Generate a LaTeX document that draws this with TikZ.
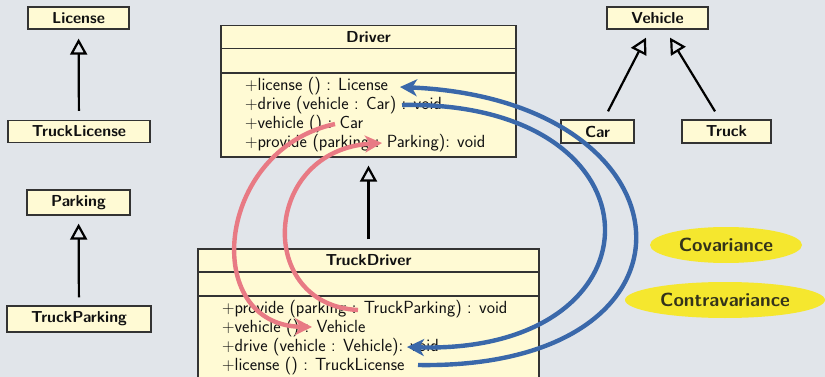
\documentclass[tikz,border=0pt]{standalone}
\usepackage{fontspec}
\usetikzlibrary{arrows.meta,shapes.geometric,calc}
\definecolor{bgcol}{HTML}{E1E5EA}
\definecolor{boxfill}{HTML}{FFFAD4}
\definecolor{boxline}{HTML}{333333}
\definecolor{inkcol}{HTML}{111111}
\definecolor{pinkarr}{HTML}{E87A84}
\definecolor{bluearr}{HTML}{3A68AA}
\definecolor{tagfill}{HTML}{F5E72E}
\definecolor{tagtext}{HTML}{33331A}
\tikzset{
  cls/.style={draw=boxline, fill=boxfill, line width=1.3pt, inner sep=0pt,
    text=inkcol, font=\sffamily\bfseries\fontsize{15.9}{18}\selectfont},
  part/.style={draw=boxline, fill=boxfill, line width=1.3pt, inner sep=0pt},
  meth/.style={anchor=base west, inner sep=0pt, text=inkcol,
    font=\sffamily\fontsize{17.6}{19}\selectfont},
  inh/.style={draw=black, line width=2.2pt,
    -{Triangle[open, length=16pt, width=17pt, line width=2.2pt]}},
  flow/.style={line width=4.4pt, -{Stealth[length=17pt, width=17pt, inset=5pt]}},
  tag/.style={ellipse, fill=tagfill, inner sep=0pt, text=tagtext,
    font=\sffamily\bfseries\fontsize{19}{21}\selectfont},
}
\begin{document}
\begin{tikzpicture}[x=1pt, y=-1pt]
  \useasboundingbox (0,0) rectangle (825,377);
  \clip (0,0) rectangle (825,377);
  \fill[bgcol] (0,0) rectangle (825,377);

  % simple classes on the left
  \node[cls, minimum width=101, minimum height=22] (lic)   at (78.5,18) {License};
  \node[cls, minimum width=142, minimum height=22] (tlic)  at (79,131.5) {TruckLicense};
  \node[cls, minimum width=103, minimum height=25] (park)  at (78.5,202.5) {Parking};
  \node[cls, minimum width=144, minimum height=26] (tpark) at (79,319) {TruckParking};

  % vehicle hierarchy
  \node[cls, minimum width=101, minimum height=22] (veh)   at (657.5,18) {Vehicle};
  \node[cls, minimum width=73,  minimum height=23] (car)   at (597.5,131.5) {Car};
  \node[cls, minimum width=89,  minimum height=23] (truck) at (726.5,131.5) {Truck};

  % Driver class
  \node[cls, minimum width=295, minimum height=23] (dhead) at (368.5,37) {Driver};
  \node[part, minimum width=295, minimum height=25] (dattr) at (368.5,61) {};
  \node[part, minimum width=295, minimum height=84] (dmeth) at (368.5,115) {};
  \node[meth] (d1) at (245,91)  {$+$license () : License};
  \node[meth] (d2) at (245,110) {$+$drive (vehicle : Car) : void};
  \node[meth] (d3) at (245,129) {$+$vehicle () : Car};
  \node[meth] (d4) at (245,148) {$+$provide (parking : Parking): void};

  % TruckDriver class
  \node[cls, minimum width=341, minimum height=23] (thead) at (368.5,260.5) {TruckDriver};
  \node[part, minimum width=341, minimum height=24] (tattr) at (368.5,284) {};
  \node[part, minimum width=341, minimum height=100] (tmeth) at (368.5,346) {};
  \node[meth] (t1) at (222,313) {$+$provide (parking : TruckParking) : void};
  \node[meth] (t2) at (222,332) {$+$vehicle () : Vehicle};
  \node[meth] (t3) at (222,351) {$+$drive (vehicle : Vehicle): void};
  \node[meth] (t4) at (222,370) {$+$license () : TruckLicense};

  % generalisations
  \draw[inh, shorten <=9pt, shorten >=9pt] (tlic) -- (lic);
  \draw[inh, shorten <=8pt, shorten >=8pt] (tpark) -- (park);
  \draw[inh, shorten <=9pt, shorten >=8pt] (thead) -- (dmeth);
  \draw[inh] ([xshift=10.5pt, yshift=8pt]car.north) -- ([xshift=-11.5pt, yshift=-8pt]veh.south);
  \draw[inh] ([xshift=-11.5pt, yshift=8pt]truck.north) -- ([xshift=12.5pt, yshift=-8pt]veh.south);

  % legend
  \node[tag, minimum width=152, minimum height=36] (cov) at (726,245) {Covariance};
  \node[tag, minimum width=200, minimum height=36] (contra) at (725,300) {Contravariance};

  % contravariant parameter / return links
  \draw[flow, pinkarr] ($(d3.base west)+(90,-5)$)
      .. controls (215,150) and (200,325) .. ($(t2.base west)+(90,-5)$);
  \draw[flow, pinkarr] ($(t1.base west)+(136,-3)$)
      .. controls (255,305) and (262,150) .. ($(d4.base west)+(137,-5)$);

  % covariant links
  \draw[flow, bluearr] ($(t4.base west)+(196,-5)$)
      .. controls (720,370) and (700,100) .. ($(d1.base west)+(155,-4)$);
  \draw[flow, bluearr] ($(d2.base west)+(157,-5)$)
      .. controls (670,100) and (670,355) .. ($(t3.base west)+(185,-4)$);
\end{tikzpicture}
\end{document}
